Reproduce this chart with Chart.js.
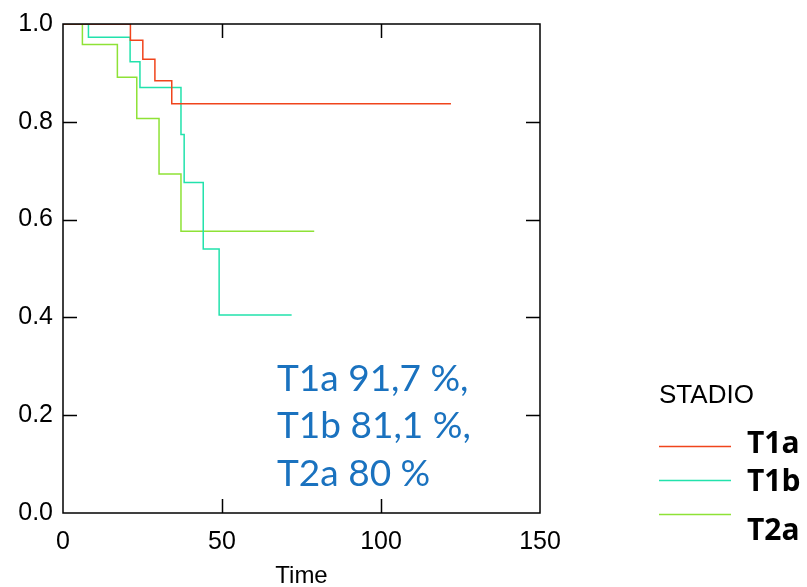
<!DOCTYPE html>
<html>
<head>
<meta charset="utf-8">
<script src="https://cdn.jsdelivr.net/npm/chart.js@4/dist/chart.umd.min.js"></script>
<style>
  html, body { margin: 0; padding: 0; background: #fff; }
  #wrap { position: relative; width: 807px; height: 587px; }
</style>
</head>
<body>
<div id="wrap"><canvas id="kmChart"></canvas></div>
<script>
// Kaplan-Meier steps: time of each drop and survival after it
const t1aTimes = [0, 21.2, 25.1, 28.9, 34.2, 122];
const t1aSurv = [1.0, 0.967, 0.928, 0.884, 0.837, 0.837];

const t1bTimes = [0, 8.0, 21.1, 24.2, 37.1, 38.1, 44.1, 49.1, 71.9];
const t1bSurv = [1.0, 0.973, 0.923, 0.870, 0.774, 0.676, 0.540, 0.405, 0.405];

const t2aTimes = [0, 6.1, 17.1, 23.2, 30.2, 37.1, 79.0];
const t2aSurv = [1.0, 0.958, 0.891, 0.807, 0.693, 0.576, 0.576];

const groupNames = ["T1a", "T1b", "T2a"];
const groupColors = ["#f0441c", "#22e2ac", "#8ee236"];
const noteLines = ["T1a 91,7 %,", "T1b 81,1 %,", "T2a 80 %"];
const xTicks = [0, 50, 100, 150];
const yTicks = [0, 0.2, 0.4, 0.6, 0.8, 1.0];

const toPoints = (xs, ys) => xs.map((x, i) => ({ x: x, y: ys[i] }));

const boxPlugin = {
  id: "boxAndExtras",
  afterDatasetsDraw(chart) {
    const { ctx, chartArea: a, scales } = chart;
    const x = scales.x, y = scales.y;
    ctx.save();
    ctx.strokeStyle = "#000";
    ctx.lineWidth = 1.5;
    ctx.strokeRect(a.left, a.top, a.right - a.left, a.bottom - a.top);
    const len = 14;
    ctx.beginPath();
    yTicks.slice(1, -1).forEach(v => {
      const py = Math.round(y.getPixelForValue(v)) + 0.5;
      ctx.moveTo(a.left, py); ctx.lineTo(a.left + len, py);
      ctx.moveTo(a.right, py); ctx.lineTo(a.right - len, py);
    });
    xTicks.slice(1, -1).forEach(v => {
      const px = Math.round(x.getPixelForValue(v)) + 0.5;
      ctx.moveTo(px, a.bottom); ctx.lineTo(px, a.bottom - len);
      ctx.moveTo(px, a.top); ctx.lineTo(px, a.top + len);
    });
    ctx.stroke();

    // survival note
    ctx.fillStyle = "#1a72bf";
    ctx.font = "37px Lato";
    ctx.textBaseline = "middle";
    ctx.textAlign = "left";
    noteLines.forEach((s, i) => ctx.fillText(s, 277, 379 + i * 47.5));

    // legend
    ctx.fillStyle = "#000";
    ctx.font = "26px 'Liberation Sans'";
    ctx.fillText("STADIO", 659, 396);
    ctx.font = "bold 30px 'Open Sans'";
    const lineYs = [446, 480, 514];
    const textYs = [444, 482, 531];
    groupNames.forEach((n, i) => {
      ctx.strokeStyle = groupColors[i];
      ctx.lineWidth = 1.5;
      ctx.beginPath();
      ctx.moveTo(659, lineYs[i] + 0.5);
      ctx.lineTo(731, lineYs[i] + 0.5);
      ctx.stroke();
      ctx.fillText(n, 747, textYs[i]);
    });
    ctx.restore();
  }
};

const series = [toPoints(t1aTimes, t1aSurv), toPoints(t1bTimes, t1bSurv), toPoints(t2aTimes, t2aSurv)];

new Chart(document.getElementById("kmChart"), {
  type: "line",
  data: {
    datasets: series.map((pts, i) => ({
      label: groupNames[i],
      data: pts,
      borderColor: groupColors[i],
      borderWidth: 1.5,
      pointRadius: 0,
      stepped: "before",
      fill: false,
    })),
  },
  options: {
    responsive: true,
    maintainAspectRatio: false,
    animation: false,
    layout: { padding: { top: 24, right: 267, left: 0, bottom: 0 } },
    scales: {
      x: {
        type: "linear",
        min: 0,
        max: 150,
        afterBuildTicks: s => { s.ticks = xTicks.map(v => ({ value: v })); },
        afterFit: s => { s.height = 74; },
        grid: { display: false },
        border: { display: false },
        ticks: { color: "#000", font: { family: "Liberation Sans", size: 25 }, padding: 6, maxRotation: 0 },
        title: { display: true, text: "Time", color: "#000", font: { family: "Liberation Sans", size: 24 }, padding: { top: 0, bottom: -4 } },
      },
      y: {
        min: 0,
        max: 1,
        afterBuildTicks: s => { s.ticks = yTicks.map(v => ({ value: v })); },
        afterFit: s => { s.width = 63; },
        grid: { display: false },
        border: { display: false },
        ticks: { color: "#000", font: { family: "Liberation Sans", size: 25 }, padding: 2, callback: v => v.toFixed(1) },
      },
    },
    plugins: {
      legend: { display: false },
      tooltip: { enabled: false },
    },
  },
  plugins: [boxPlugin],
});
</script>
</body>
</html>
